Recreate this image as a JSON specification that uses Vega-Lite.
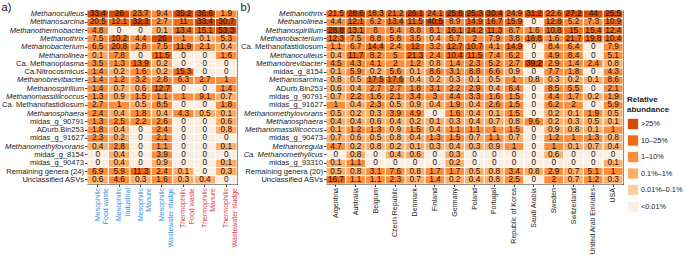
{
  "$schema": "https://vega.github.io/schema/vega-lite/v6.json",
  "padding": {"left": 1, "top": 1, "right": 0, "bottom": 0},
  "config": {
    "font": "Liberation Sans",
    "view": {"stroke": "#222", "strokeWidth": 1},
    "concat": {"spacing": 2},
    "axis": {"labelFontSize": 7.6, "labelColor": "#222", "tickColor": "#444", "tickSize": 2.5, "labelPadding": 1, "domain": false, "title": null, "grid": false}
  },
  "datasets": {
    "a": [
      {"genus":"Methanoculleus","group":"Mesophilic Food waste","value":33.4},
      {"genus":"Methanoculleus","group":"Mesophilic Industrial","value":26},
      {"genus":"Methanoculleus","group":"Mesophilic Manure","value":23.7},
      {"genus":"Methanoculleus","group":"Mesophilic Wastewater sludge","value":9.4},
      {"genus":"Methanoculleus","group":"Thermophilic Food waste","value":35.2},
      {"genus":"Methanoculleus","group":"Thermophilic Manure","value":36.6},
      {"genus":"Methanoculleus","group":"Thermophilic Wastewater sludge","value":1.9},
      {"genus":"Methanosarcina","group":"Mesophilic Food waste","value":20.5},
      {"genus":"Methanosarcina","group":"Mesophilic Industrial","value":12.1},
      {"genus":"Methanosarcina","group":"Mesophilic Manure","value":32.3},
      {"genus":"Methanosarcina","group":"Mesophilic Wastewater sludge","value":2.7},
      {"genus":"Methanosarcina","group":"Thermophilic Food waste","value":11},
      {"genus":"Methanosarcina","group":"Thermophilic Manure","value":33.4},
      {"genus":"Methanosarcina","group":"Thermophilic Wastewater sludge","value":30.7},
      {"genus":"Methanothermobacter","group":"Mesophilic Food waste","value":4.8},
      {"genus":"Methanothermobacter","group":"Mesophilic Industrial","value":0},
      {"genus":"Methanothermobacter","group":"Mesophilic Manure","value":0},
      {"genus":"Methanothermobacter","group":"Mesophilic Wastewater sludge","value":0.1},
      {"genus":"Methanothermobacter","group":"Thermophilic Food waste","value":13.4},
      {"genus":"Methanothermobacter","group":"Thermophilic Manure","value":15.1},
      {"genus":"Methanothermobacter","group":"Thermophilic Wastewater sludge","value":53.3},
      {"genus":"Methanothrix","group":"Mesophilic Food waste","value":7.5},
      {"genus":"Methanothrix","group":"Mesophilic Industrial","value":10.2},
      {"genus":"Methanothrix","group":"Mesophilic Manure","value":4.4},
      {"genus":"Methanothrix","group":"Mesophilic Wastewater sludge","value":26},
      {"genus":"Methanothrix","group":"Thermophilic Food waste","value":1},
      {"genus":"Methanothrix","group":"Thermophilic Manure","value":0.1},
      {"genus":"Methanothrix","group":"Thermophilic Wastewater sludge","value":5.3},
      {"genus":"Methanobacterium","group":"Mesophilic Food waste","value":6.5},
      {"genus":"Methanobacterium","group":"Mesophilic Industrial","value":20.8},
      {"genus":"Methanobacterium","group":"Mesophilic Manure","value":2.8},
      {"genus":"Methanobacterium","group":"Mesophilic Wastewater sludge","value":7.5},
      {"genus":"Methanobacterium","group":"Thermophilic Food waste","value":11.9},
      {"genus":"Methanobacterium","group":"Thermophilic Manure","value":2.1},
      {"genus":"Methanobacterium","group":"Thermophilic Wastewater sludge","value":0.4},
      {"genus":"Methanolinea","group":"Mesophilic Food waste","value":0.1},
      {"genus":"Methanolinea","group":"Mesophilic Industrial","value":7.8},
      {"genus":"Methanolinea","group":"Mesophilic Manure","value":0},
      {"genus":"Methanolinea","group":"Mesophilic Wastewater sludge","value":11.5},
      {"genus":"Methanolinea","group":"Thermophilic Food waste","value":0},
      {"genus":"Methanolinea","group":"Thermophilic Manure","value":0},
      {"genus":"Methanolinea","group":"Thermophilic Wastewater sludge","value":1.6},
      {"genus":"Ca. Methanoplasma","group":"Mesophilic Food waste","value":3.5},
      {"genus":"Ca. Methanoplasma","group":"Mesophilic Industrial","value":1.3},
      {"genus":"Ca. Methanoplasma","group":"Mesophilic Manure","value":13.9},
      {"genus":"Ca. Methanoplasma","group":"Mesophilic Wastewater sludge","value":0.2},
      {"genus":"Ca. Methanoplasma","group":"Thermophilic Food waste","value":0},
      {"genus":"Ca. Methanoplasma","group":"Thermophilic Manure","value":0},
      {"genus":"Ca. Methanoplasma","group":"Thermophilic Wastewater sludge","value":0},
      {"genus":"Ca.Nitrocosmicus","group":"Mesophilic Food waste","value":1.4},
      {"genus":"Ca.Nitrocosmicus","group":"Mesophilic Industrial","value":0.2},
      {"genus":"Ca.Nitrocosmicus","group":"Mesophilic Manure","value":1.6},
      {"genus":"Ca.Nitrocosmicus","group":"Mesophilic Wastewater sludge","value":0.2},
      {"genus":"Ca.Nitrocosmicus","group":"Thermophilic Food waste","value":15.3},
      {"genus":"Ca.Nitrocosmicus","group":"Thermophilic Manure","value":0},
      {"genus":"Ca.Nitrocosmicus","group":"Thermophilic Wastewater sludge","value":0},
      {"genus":"Methanobrevibacter","group":"Mesophilic Food waste","value":1.4},
      {"genus":"Methanobrevibacter","group":"Mesophilic Industrial","value":1.2},
      {"genus":"Methanobrevibacter","group":"Mesophilic Manure","value":3.2},
      {"genus":"Methanobrevibacter","group":"Mesophilic Wastewater sludge","value":2.8},
      {"genus":"Methanobrevibacter","group":"Thermophilic Food waste","value":6.3},
      {"genus":"Methanobrevibacter","group":"Thermophilic Manure","value":2.7},
      {"genus":"Methanobrevibacter","group":"Thermophilic Wastewater sludge","value":1},
      {"genus":"Methanospirillum","group":"Mesophilic Food waste","value":1.4},
      {"genus":"Methanospirillum","group":"Mesophilic Industrial","value":0.7},
      {"genus":"Methanospirillum","group":"Mesophilic Manure","value":0.6},
      {"genus":"Methanospirillum","group":"Mesophilic Wastewater sludge","value":12.7},
      {"genus":"Methanospirillum","group":"Thermophilic Food waste","value":0},
      {"genus":"Methanospirillum","group":"Thermophilic Manure","value":0},
      {"genus":"Methanospirillum","group":"Thermophilic Wastewater sludge","value":1.4},
      {"genus":"Methanomassiliicoccus","group":"Mesophilic Food waste","value":1.3},
      {"genus":"Methanomassiliicoccus","group":"Mesophilic Industrial","value":0.9},
      {"genus":"Methanomassiliicoccus","group":"Mesophilic Manure","value":1.5},
      {"genus":"Methanomassiliicoccus","group":"Mesophilic Wastewater sludge","value":1.1},
      {"genus":"Methanomassiliicoccus","group":"Thermophilic Food waste","value":1},
      {"genus":"Methanomassiliicoccus","group":"Thermophilic Manure","value":9.1},
      {"genus":"Methanomassiliicoccus","group":"Thermophilic Wastewater sludge","value":0.7},
      {"genus":"Ca. Methanofastidiosum","group":"Mesophilic Food waste","value":2.7},
      {"genus":"Ca. Methanofastidiosum","group":"Mesophilic Industrial","value":1},
      {"genus":"Ca. Methanofastidiosum","group":"Mesophilic Manure","value":0.5},
      {"genus":"Ca. Methanofastidiosum","group":"Mesophilic Wastewater sludge","value":8.5},
      {"genus":"Ca. Methanofastidiosum","group":"Thermophilic Food waste","value":0},
      {"genus":"Ca. Methanofastidiosum","group":"Thermophilic Manure","value":0},
      {"genus":"Ca. Methanofastidiosum","group":"Thermophilic Wastewater sludge","value":1.8},
      {"genus":"Methanosphaera","group":"Mesophilic Food waste","value":2.4},
      {"genus":"Methanosphaera","group":"Mesophilic Industrial","value":0.4},
      {"genus":"Methanosphaera","group":"Mesophilic Manure","value":1.8},
      {"genus":"Methanosphaera","group":"Mesophilic Wastewater sludge","value":0.4},
      {"genus":"Methanosphaera","group":"Thermophilic Food waste","value":4.3},
      {"genus":"Methanosphaera","group":"Thermophilic Manure","value":0.5},
      {"genus":"Methanosphaera","group":"Thermophilic Wastewater sludge","value":0.1},
      {"genus":"midas_g_90791","group":"Mesophilic Food waste","value":1.3},
      {"genus":"midas_g_90791","group":"Mesophilic Industrial","value":2.5},
      {"genus":"midas_g_90791","group":"Mesophilic Manure","value":2.2},
      {"genus":"midas_g_90791","group":"Mesophilic Wastewater sludge","value":2.6},
      {"genus":"midas_g_90791","group":"Thermophilic Food waste","value":0},
      {"genus":"midas_g_90791","group":"Thermophilic Manure","value":0},
      {"genus":"midas_g_90791","group":"Thermophilic Wastewater sludge","value":0.6},
      {"genus":"ADurb.Bin253","group":"Mesophilic Food waste","value":1.8},
      {"genus":"ADurb.Bin253","group":"Mesophilic Industrial","value":0.4},
      {"genus":"ADurb.Bin253","group":"Mesophilic Manure","value":0},
      {"genus":"ADurb.Bin253","group":"Mesophilic Wastewater sludge","value":2.4},
      {"genus":"ADurb.Bin253","group":"Thermophilic Food waste","value":0},
      {"genus":"ADurb.Bin253","group":"Thermophilic Manure","value":0},
      {"genus":"ADurb.Bin253","group":"Thermophilic Wastewater sludge","value":0.8},
      {"genus":"midas_g_91627","group":"Mesophilic Food waste","value":2.3},
      {"genus":"midas_g_91627","group":"Mesophilic Industrial","value":0.2},
      {"genus":"midas_g_91627","group":"Mesophilic Manure","value":0},
      {"genus":"midas_g_91627","group":"Mesophilic Wastewater sludge","value":2.1},
      {"genus":"midas_g_91627","group":"Thermophilic Food waste","value":0},
      {"genus":"midas_g_91627","group":"Thermophilic Manure","value":0},
      {"genus":"midas_g_91627","group":"Thermophilic Wastewater sludge","value":0},
      {"genus":"Methanomethylovorans","group":"Mesophilic Food waste","value":0.4},
      {"genus":"Methanomethylovorans","group":"Mesophilic Industrial","value":2.8},
      {"genus":"Methanomethylovorans","group":"Mesophilic Manure","value":0},
      {"genus":"Methanomethylovorans","group":"Mesophilic Wastewater sludge","value":1.1},
      {"genus":"Methanomethylovorans","group":"Thermophilic Food waste","value":0},
      {"genus":"Methanomethylovorans","group":"Thermophilic Manure","value":0},
      {"genus":"Methanomethylovorans","group":"Thermophilic Wastewater sludge","value":0.1},
      {"genus":"midas_g_8154","group":"Mesophilic Food waste","value":0},
      {"genus":"midas_g_8154","group":"Mesophilic Industrial","value":0.4},
      {"genus":"midas_g_8154","group":"Mesophilic Manure","value":0},
      {"genus":"midas_g_8154","group":"Mesophilic Wastewater sludge","value":3.9},
      {"genus":"midas_g_8154","group":"Thermophilic Food waste","value":0},
      {"genus":"midas_g_8154","group":"Thermophilic Manure","value":0},
      {"genus":"midas_g_8154","group":"Thermophilic Wastewater sludge","value":0},
      {"genus":"midas_g_90473","group":"Mesophilic Food waste","value":0},
      {"genus":"midas_g_90473","group":"Mesophilic Industrial","value":0.4},
      {"genus":"midas_g_90473","group":"Mesophilic Manure","value":0},
      {"genus":"midas_g_90473","group":"Mesophilic Wastewater sludge","value":0.9},
      {"genus":"midas_g_90473","group":"Thermophilic Food waste","value":0},
      {"genus":"midas_g_90473","group":"Thermophilic Manure","value":0},
      {"genus":"midas_g_90473","group":"Thermophilic Wastewater sludge","value":0.1},
      {"genus":"Remaining genera (24)","group":"Mesophilic Food waste","value":6.9},
      {"genus":"Remaining genera (24)","group":"Mesophilic Industrial","value":5.9},
      {"genus":"Remaining genera (24)","group":"Mesophilic Manure","value":11.3},
      {"genus":"Remaining genera (24)","group":"Mesophilic Wastewater sludge","value":2.4},
      {"genus":"Remaining genera (24)","group":"Thermophilic Food waste","value":0.1},
      {"genus":"Remaining genera (24)","group":"Thermophilic Manure","value":0},
      {"genus":"Remaining genera (24)","group":"Thermophilic Wastewater sludge","value":0.3},
      {"genus":"Unclassified ASVs","group":"Mesophilic Food waste","value":0.6},
      {"genus":"Unclassified ASVs","group":"Mesophilic Industrial","value":4.6},
      {"genus":"Unclassified ASVs","group":"Mesophilic Manure","value":0.3},
      {"genus":"Unclassified ASVs","group":"Mesophilic Wastewater sludge","value":1.6},
      {"genus":"Unclassified ASVs","group":"Thermophilic Food waste","value":0.3},
      {"genus":"Unclassified ASVs","group":"Thermophilic Manure","value":0.4},
      {"genus":"Unclassified ASVs","group":"Thermophilic Wastewater sludge","value":0}
    ],
    "b": [
      {"genus":"Methanothrix","country":"Argentina","value":21.5},
      {"genus":"Methanothrix","country":"Australia","value":28.6},
      {"genus":"Methanothrix","country":"Belgium","value":18.3},
      {"genus":"Methanothrix","country":"Czech Republic","value":21.2},
      {"genus":"Methanothrix","country":"Denmark","value":26.1},
      {"genus":"Methanothrix","country":"Finland","value":24.1},
      {"genus":"Methanothrix","country":"Germany","value":25.8},
      {"genus":"Methanothrix","country":"Poland","value":25.3},
      {"genus":"Methanothrix","country":"Portugal","value":30.4},
      {"genus":"Methanothrix","country":"Republic of Korea","value":24.9},
      {"genus":"Methanothrix","country":"Saudi Arabia","value":31.2},
      {"genus":"Methanothrix","country":"Sweden","value":22.6},
      {"genus":"Methanothrix","country":"Switzerland","value":27.2},
      {"genus":"Methanothrix","country":"United Arab Emirates","value":44},
      {"genus":"Methanothrix","country":"USA","value":25.5},
      {"genus":"Methanolinea","country":"Argentina","value":4.4},
      {"genus":"Methanolinea","country":"Australia","value":12.1},
      {"genus":"Methanolinea","country":"Belgium","value":6.2},
      {"genus":"Methanolinea","country":"Czech Republic","value":13.4},
      {"genus":"Methanolinea","country":"Denmark","value":11.5},
      {"genus":"Methanolinea","country":"Finland","value":40.5},
      {"genus":"Methanolinea","country":"Germany","value":8.9},
      {"genus":"Methanolinea","country":"Poland","value":14.9},
      {"genus":"Methanolinea","country":"Portugal","value":16.7},
      {"genus":"Methanolinea","country":"Republic of Korea","value":15.9},
      {"genus":"Methanolinea","country":"Saudi Arabia","value":0},
      {"genus":"Methanolinea","country":"Sweden","value":12.8},
      {"genus":"Methanolinea","country":"Switzerland","value":5.2},
      {"genus":"Methanolinea","country":"United Arab Emirates","value":7.3},
      {"genus":"Methanolinea","country":"USA","value":10.9},
      {"genus":"Methanospirillum","country":"Argentina","value":28.8},
      {"genus":"Methanospirillum","country":"Australia","value":13.1},
      {"genus":"Methanospirillum","country":"Belgium","value":8},
      {"genus":"Methanospirillum","country":"Czech Republic","value":5.4},
      {"genus":"Methanospirillum","country":"Denmark","value":8.8},
      {"genus":"Methanospirillum","country":"Finland","value":8.1},
      {"genus":"Methanospirillum","country":"Germany","value":16.1},
      {"genus":"Methanospirillum","country":"Poland","value":14.2},
      {"genus":"Methanospirillum","country":"Portugal","value":11.3},
      {"genus":"Methanospirillum","country":"Republic of Korea","value":8.7},
      {"genus":"Methanospirillum","country":"Saudi Arabia","value":1.6},
      {"genus":"Methanospirillum","country":"Sweden","value":10.8},
      {"genus":"Methanospirillum","country":"Switzerland","value":15},
      {"genus":"Methanospirillum","country":"United Arab Emirates","value":15.4},
      {"genus":"Methanospirillum","country":"USA","value":12.4},
      {"genus":"Methanobacterium","country":"Argentina","value":12.3},
      {"genus":"Methanobacterium","country":"Australia","value":7.5},
      {"genus":"Methanobacterium","country":"Belgium","value":8.8},
      {"genus":"Methanobacterium","country":"Czech Republic","value":5.8},
      {"genus":"Methanobacterium","country":"Denmark","value":3.5},
      {"genus":"Methanobacterium","country":"Finland","value":0.4},
      {"genus":"Methanobacterium","country":"Germany","value":5.7},
      {"genus":"Methanobacterium","country":"Poland","value":2},
      {"genus":"Methanobacterium","country":"Portugal","value":7.9},
      {"genus":"Methanobacterium","country":"Republic of Korea","value":3.8},
      {"genus":"Methanobacterium","country":"Saudi Arabia","value":16.8},
      {"genus":"Methanobacterium","country":"Sweden","value":1.6},
      {"genus":"Methanobacterium","country":"Switzerland","value":21.7},
      {"genus":"Methanobacterium","country":"United Arab Emirates","value":19.8},
      {"genus":"Methanobacterium","country":"USA","value":10.4},
      {"genus":"Ca. Methanofastidiosum","country":"Argentina","value":1.1},
      {"genus":"Ca. Methanofastidiosum","country":"Australia","value":6.7},
      {"genus":"Ca. Methanofastidiosum","country":"Belgium","value":14.4},
      {"genus":"Ca. Methanofastidiosum","country":"Czech Republic","value":2.4},
      {"genus":"Ca. Methanofastidiosum","country":"Denmark","value":12},
      {"genus":"Ca. Methanofastidiosum","country":"Finland","value":3.2},
      {"genus":"Ca. Methanofastidiosum","country":"Germany","value":12.7},
      {"genus":"Ca. Methanofastidiosum","country":"Poland","value":10.7},
      {"genus":"Ca. Methanofastidiosum","country":"Portugal","value":4.1},
      {"genus":"Ca. Methanofastidiosum","country":"Republic of Korea","value":14.9},
      {"genus":"Ca. Methanofastidiosum","country":"Saudi Arabia","value":0},
      {"genus":"Ca. Methanofastidiosum","country":"Sweden","value":8.4},
      {"genus":"Ca. Methanofastidiosum","country":"Switzerland","value":6.4},
      {"genus":"Ca. Methanofastidiosum","country":"United Arab Emirates","value":0},
      {"genus":"Ca. Methanofastidiosum","country":"USA","value":7.9},
      {"genus":"Methanoculleus","country":"Argentina","value":0.4},
      {"genus":"Methanoculleus","country":"Australia","value":11.7},
      {"genus":"Methanoculleus","country":"Belgium","value":8.2},
      {"genus":"Methanoculleus","country":"Czech Republic","value":5},
      {"genus":"Methanoculleus","country":"Denmark","value":21.3},
      {"genus":"Methanoculleus","country":"Finland","value":2.4},
      {"genus":"Methanoculleus","country":"Germany","value":10.4},
      {"genus":"Methanoculleus","country":"Poland","value":11.5},
      {"genus":"Methanoculleus","country":"Portugal","value":7.4},
      {"genus":"Methanoculleus","country":"Republic of Korea","value":6.2},
      {"genus":"Methanoculleus","country":"Saudi Arabia","value":0},
      {"genus":"Methanoculleus","country":"Sweden","value":4.9},
      {"genus":"Methanoculleus","country":"Switzerland","value":8.4},
      {"genus":"Methanoculleus","country":"United Arab Emirates","value":0},
      {"genus":"Methanoculleus","country":"USA","value":5.1},
      {"genus":"Methanobrevibacter","country":"Argentina","value":4.5},
      {"genus":"Methanobrevibacter","country":"Australia","value":4.3},
      {"genus":"Methanobrevibacter","country":"Belgium","value":4.1},
      {"genus":"Methanobrevibacter","country":"Czech Republic","value":2},
      {"genus":"Methanobrevibacter","country":"Denmark","value":1.2},
      {"genus":"Methanobrevibacter","country":"Finland","value":0.8},
      {"genus":"Methanobrevibacter","country":"Germany","value":1.4},
      {"genus":"Methanobrevibacter","country":"Poland","value":2.3},
      {"genus":"Methanobrevibacter","country":"Portugal","value":5.2},
      {"genus":"Methanobrevibacter","country":"Republic of Korea","value":2.7},
      {"genus":"Methanobrevibacter","country":"Saudi Arabia","value":39.2},
      {"genus":"Methanobrevibacter","country":"Sweden","value":2.9},
      {"genus":"Methanobrevibacter","country":"Switzerland","value":1.4},
      {"genus":"Methanobrevibacter","country":"United Arab Emirates","value":2.4},
      {"genus":"Methanobrevibacter","country":"USA","value":0.8},
      {"genus":"midas_g_8154","country":"Argentina","value":0.1},
      {"genus":"midas_g_8154","country":"Australia","value":5.9},
      {"genus":"midas_g_8154","country":"Belgium","value":0.2},
      {"genus":"midas_g_8154","country":"Czech Republic","value":5.6},
      {"genus":"midas_g_8154","country":"Denmark","value":0.1},
      {"genus":"midas_g_8154","country":"Finland","value":8.6},
      {"genus":"midas_g_8154","country":"Germany","value":3.1},
      {"genus":"midas_g_8154","country":"Poland","value":8.8},
      {"genus":"midas_g_8154","country":"Portugal","value":6.6},
      {"genus":"midas_g_8154","country":"Republic of Korea","value":0.9},
      {"genus":"midas_g_8154","country":"Saudi Arabia","value":0},
      {"genus":"midas_g_8154","country":"Sweden","value":7.7},
      {"genus":"midas_g_8154","country":"Switzerland","value":1.8},
      {"genus":"midas_g_8154","country":"United Arab Emirates","value":0},
      {"genus":"midas_g_8154","country":"USA","value":4.3},
      {"genus":"Methanosarcina","country":"Argentina","value":0.8},
      {"genus":"Methanosarcina","country":"Australia","value":0.5},
      {"genus":"Methanosarcina","country":"Belgium","value":17.5},
      {"genus":"Methanosarcina","country":"Czech Republic","value":17.6},
      {"genus":"Methanosarcina","country":"Denmark","value":0.4},
      {"genus":"Methanosarcina","country":"Finland","value":0.2},
      {"genus":"Methanosarcina","country":"Germany","value":0.3},
      {"genus":"Methanosarcina","country":"Poland","value":0.1},
      {"genus":"Methanosarcina","country":"Portugal","value":0.5},
      {"genus":"Methanosarcina","country":"Republic of Korea","value":1},
      {"genus":"Methanosarcina","country":"Saudi Arabia","value":0.8},
      {"genus":"Methanosarcina","country":"Sweden","value":0.3},
      {"genus":"Methanosarcina","country":"Switzerland","value":0.2},
      {"genus":"Methanosarcina","country":"United Arab Emirates","value":0.1},
      {"genus":"Methanosarcina","country":"USA","value":8.6},
      {"genus":"ADurb.Bin253","country":"Argentina","value":0.6},
      {"genus":"ADurb.Bin253","country":"Australia","value":0.4},
      {"genus":"ADurb.Bin253","country":"Belgium","value":2.7},
      {"genus":"ADurb.Bin253","country":"Czech Republic","value":2.7},
      {"genus":"ADurb.Bin253","country":"Denmark","value":1.8},
      {"genus":"ADurb.Bin253","country":"Finland","value":3.1},
      {"genus":"ADurb.Bin253","country":"Germany","value":2.2},
      {"genus":"ADurb.Bin253","country":"Poland","value":2.9},
      {"genus":"ADurb.Bin253","country":"Portugal","value":0.4},
      {"genus":"ADurb.Bin253","country":"Republic of Korea","value":6.4},
      {"genus":"ADurb.Bin253","country":"Saudi Arabia","value":0},
      {"genus":"ADurb.Bin253","country":"Sweden","value":8.5},
      {"genus":"ADurb.Bin253","country":"Switzerland","value":5.5},
      {"genus":"ADurb.Bin253","country":"United Arab Emirates","value":0},
      {"genus":"ADurb.Bin253","country":"USA","value":2.1},
      {"genus":"midas_g_90791","country":"Argentina","value":0.7},
      {"genus":"midas_g_90791","country":"Australia","value":2.2},
      {"genus":"midas_g_90791","country":"Belgium","value":1.6},
      {"genus":"midas_g_90791","country":"Czech Republic","value":2.1},
      {"genus":"midas_g_90791","country":"Denmark","value":3.4},
      {"genus":"midas_g_90791","country":"Finland","value":3},
      {"genus":"midas_g_90791","country":"Germany","value":4.4},
      {"genus":"midas_g_90791","country":"Poland","value":3.3},
      {"genus":"midas_g_90791","country":"Portugal","value":1.6},
      {"genus":"midas_g_90791","country":"Republic of Korea","value":1.5},
      {"genus":"midas_g_90791","country":"Saudi Arabia","value":0},
      {"genus":"midas_g_90791","country":"Sweden","value":4.4},
      {"genus":"midas_g_90791","country":"Switzerland","value":1.7},
      {"genus":"midas_g_90791","country":"United Arab Emirates","value":0.2},
      {"genus":"midas_g_90791","country":"USA","value":1.9},
      {"genus":"midas_g_91627","country":"Argentina","value":1},
      {"genus":"midas_g_91627","country":"Australia","value":0.4},
      {"genus":"midas_g_91627","country":"Belgium","value":2.3},
      {"genus":"midas_g_91627","country":"Czech Republic","value":0.5},
      {"genus":"midas_g_91627","country":"Denmark","value":0.9},
      {"genus":"midas_g_91627","country":"Finland","value":0.4},
      {"genus":"midas_g_91627","country":"Germany","value":1.9},
      {"genus":"midas_g_91627","country":"Poland","value":0.4},
      {"genus":"midas_g_91627","country":"Portugal","value":2.6},
      {"genus":"midas_g_91627","country":"Republic of Korea","value":1.5},
      {"genus":"midas_g_91627","country":"Saudi Arabia","value":0},
      {"genus":"midas_g_91627","country":"Sweden","value":6.2},
      {"genus":"midas_g_91627","country":"Switzerland","value":2},
      {"genus":"midas_g_91627","country":"United Arab Emirates","value":0},
      {"genus":"midas_g_91627","country":"USA","value":5.9},
      {"genus":"Methanomethylovorans","country":"Argentina","value":0.5},
      {"genus":"Methanomethylovorans","country":"Australia","value":0.2},
      {"genus":"Methanomethylovorans","country":"Belgium","value":0.3},
      {"genus":"Methanomethylovorans","country":"Czech Republic","value":3.9},
      {"genus":"Methanomethylovorans","country":"Denmark","value":4.9},
      {"genus":"Methanomethylovorans","country":"Finland","value":0},
      {"genus":"Methanomethylovorans","country":"Germany","value":1.6},
      {"genus":"Methanomethylovorans","country":"Poland","value":0.4},
      {"genus":"Methanomethylovorans","country":"Portugal","value":0.1},
      {"genus":"Methanomethylovorans","country":"Republic of Korea","value":1.5},
      {"genus":"Methanomethylovorans","country":"Saudi Arabia","value":0},
      {"genus":"Methanomethylovorans","country":"Sweden","value":0.2},
      {"genus":"Methanomethylovorans","country":"Switzerland","value":0.1},
      {"genus":"Methanomethylovorans","country":"United Arab Emirates","value":1.9},
      {"genus":"Methanomethylovorans","country":"USA","value":0.5},
      {"genus":"Methanosphaera","country":"Argentina","value":0.4},
      {"genus":"Methanosphaera","country":"Australia","value":0.4},
      {"genus":"Methanosphaera","country":"Belgium","value":0.6},
      {"genus":"Methanosphaera","country":"Czech Republic","value":0.4},
      {"genus":"Methanosphaera","country":"Denmark","value":0.2},
      {"genus":"Methanosphaera","country":"Finland","value":0.1},
      {"genus":"Methanosphaera","country":"Germany","value":0.3},
      {"genus":"Methanosphaera","country":"Poland","value":0.4},
      {"genus":"Methanosphaera","country":"Portugal","value":0.7},
      {"genus":"Methanosphaera","country":"Republic of Korea","value":0.8},
      {"genus":"Methanosphaera","country":"Saudi Arabia","value":9.6},
      {"genus":"Methanosphaera","country":"Sweden","value":0.2},
      {"genus":"Methanosphaera","country":"Switzerland","value":0.3},
      {"genus":"Methanosphaera","country":"United Arab Emirates","value":0.5},
      {"genus":"Methanosphaera","country":"USA","value":0.1},
      {"genus":"Methanomassiliicoccus","country":"Argentina","value":0.1},
      {"genus":"Methanomassiliicoccus","country":"Australia","value":1.2},
      {"genus":"Methanomassiliicoccus","country":"Belgium","value":1.3},
      {"genus":"Methanomassiliicoccus","country":"Czech Republic","value":0.9},
      {"genus":"Methanomassiliicoccus","country":"Denmark","value":1.5},
      {"genus":"Methanomassiliicoccus","country":"Finland","value":0.4},
      {"genus":"Methanomassiliicoccus","country":"Germany","value":1.1},
      {"genus":"Methanomassiliicoccus","country":"Poland","value":1.1},
      {"genus":"Methanomassiliicoccus","country":"Portugal","value":1},
      {"genus":"Methanomassiliicoccus","country":"Republic of Korea","value":1.5},
      {"genus":"Methanomassiliicoccus","country":"Saudi Arabia","value":0},
      {"genus":"Methanomassiliicoccus","country":"Sweden","value":0.9},
      {"genus":"Methanomassiliicoccus","country":"Switzerland","value":0.8},
      {"genus":"Methanomassiliicoccus","country":"United Arab Emirates","value":0.1},
      {"genus":"Methanomassiliicoccus","country":"USA","value":1},
      {"genus":"midas_g_90473","country":"Argentina","value":0.7},
      {"genus":"midas_g_90473","country":"Australia","value":0.6},
      {"genus":"midas_g_90473","country":"Belgium","value":0.5},
      {"genus":"midas_g_90473","country":"Czech Republic","value":0.8},
      {"genus":"midas_g_90473","country":"Denmark","value":0.4},
      {"genus":"midas_g_90473","country":"Finland","value":1.3},
      {"genus":"midas_g_90473","country":"Germany","value":1.5},
      {"genus":"midas_g_90473","country":"Poland","value":0.7},
      {"genus":"midas_g_90473","country":"Portugal","value":1.1},
      {"genus":"midas_g_90473","country":"Republic of Korea","value":0.7},
      {"genus":"midas_g_90473","country":"Saudi Arabia","value":0},
      {"genus":"midas_g_90473","country":"Sweden","value":1.2},
      {"genus":"midas_g_90473","country":"Switzerland","value":1},
      {"genus":"midas_g_90473","country":"United Arab Emirates","value":1.3},
      {"genus":"midas_g_90473","country":"USA","value":0.8},
      {"genus":"Methanoregula","country":"Argentina","value":4.7},
      {"genus":"Methanoregula","country":"Australia","value":0.2},
      {"genus":"Methanoregula","country":"Belgium","value":0.8},
      {"genus":"Methanoregula","country":"Czech Republic","value":0.2},
      {"genus":"Methanoregula","country":"Denmark","value":0.1},
      {"genus":"Methanoregula","country":"Finland","value":0.3},
      {"genus":"Methanoregula","country":"Germany","value":0.4},
      {"genus":"Methanoregula","country":"Poland","value":0.3},
      {"genus":"Methanoregula","country":"Portugal","value":0.9},
      {"genus":"Methanoregula","country":"Republic of Korea","value":1},
      {"genus":"Methanoregula","country":"Saudi Arabia","value":0},
      {"genus":"Methanoregula","country":"Sweden","value":1},
      {"genus":"Methanoregula","country":"Switzerland","value":0.1},
      {"genus":"Methanoregula","country":"United Arab Emirates","value":0.7},
      {"genus":"Methanoregula","country":"USA","value":0.4},
      {"genus":"Ca. Methanomethylicus","country":"Argentina","value":0},
      {"genus":"Ca. Methanomethylicus","country":"Australia","value":0.8},
      {"genus":"Ca. Methanomethylicus","country":"Belgium","value":0},
      {"genus":"Ca. Methanomethylicus","country":"Czech Republic","value":0.4},
      {"genus":"Ca. Methanomethylicus","country":"Denmark","value":0.6},
      {"genus":"Ca. Methanomethylicus","country":"Finland","value":0},
      {"genus":"Ca. Methanomethylicus","country":"Germany","value":0.3},
      {"genus":"Ca. Methanomethylicus","country":"Poland","value":0},
      {"genus":"Ca. Methanomethylicus","country":"Portugal","value":0},
      {"genus":"Ca. Methanomethylicus","country":"Republic of Korea","value":0},
      {"genus":"Ca. Methanomethylicus","country":"Saudi Arabia","value":0},
      {"genus":"Ca. Methanomethylicus","country":"Sweden","value":0.6},
      {"genus":"Ca. Methanomethylicus","country":"Switzerland","value":0},
      {"genus":"Ca. Methanomethylicus","country":"United Arab Emirates","value":0},
      {"genus":"Ca. Methanomethylicus","country":"USA","value":0},
      {"genus":"midas_g_93310","country":"Argentina","value":0.1},
      {"genus":"midas_g_93310","country":"Australia","value":1.1},
      {"genus":"midas_g_93310","country":"Belgium","value":0},
      {"genus":"midas_g_93310","country":"Czech Republic","value":0},
      {"genus":"midas_g_93310","country":"Denmark","value":0},
      {"genus":"midas_g_93310","country":"Finland","value":0},
      {"genus":"midas_g_93310","country":"Germany","value":0.2},
      {"genus":"midas_g_93310","country":"Poland","value":0},
      {"genus":"midas_g_93310","country":"Portugal","value":0},
      {"genus":"midas_g_93310","country":"Republic of Korea","value":0},
      {"genus":"midas_g_93310","country":"Saudi Arabia","value":0},
      {"genus":"midas_g_93310","country":"Sweden","value":0},
      {"genus":"midas_g_93310","country":"Switzerland","value":0},
      {"genus":"midas_g_93310","country":"United Arab Emirates","value":0},
      {"genus":"midas_g_93310","country":"USA","value":0.1},
      {"genus":"Remaining genera (20)","country":"Argentina","value":0.5},
      {"genus":"Remaining genera (20)","country":"Australia","value":0.8},
      {"genus":"Remaining genera (20)","country":"Belgium","value":3.1},
      {"genus":"Remaining genera (20)","country":"Czech Republic","value":7.6},
      {"genus":"Remaining genera (20)","country":"Denmark","value":0.8},
      {"genus":"Remaining genera (20)","country":"Finland","value":1.7},
      {"genus":"Remaining genera (20)","country":"Germany","value":1.7},
      {"genus":"Remaining genera (20)","country":"Poland","value":0.5},
      {"genus":"Remaining genera (20)","country":"Portugal","value":0.8},
      {"genus":"Remaining genera (20)","country":"Republic of Korea","value":3.4},
      {"genus":"Remaining genera (20)","country":"Saudi Arabia","value":0.8},
      {"genus":"Remaining genera (20)","country":"Sweden","value":2.9},
      {"genus":"Remaining genera (20)","country":"Switzerland","value":0.7},
      {"genus":"Remaining genera (20)","country":"United Arab Emirates","value":5.1},
      {"genus":"Remaining genera (20)","country":"USA","value":1},
      {"genus":"Unclassified ASVs","country":"Argentina","value":16.7},
      {"genus":"Unclassified ASVs","country":"Australia","value":1.1},
      {"genus":"Unclassified ASVs","country":"Belgium","value":1.1},
      {"genus":"Unclassified ASVs","country":"Czech Republic","value":2.3},
      {"genus":"Unclassified ASVs","country":"Denmark","value":0.7},
      {"genus":"Unclassified ASVs","country":"Finland","value":1.4},
      {"genus":"Unclassified ASVs","country":"Germany","value":0.2},
      {"genus":"Unclassified ASVs","country":"Poland","value":0.4},
      {"genus":"Unclassified ASVs","country":"Portugal","value":0.8},
      {"genus":"Unclassified ASVs","country":"Republic of Korea","value":2.5},
      {"genus":"Unclassified ASVs","country":"Saudi Arabia","value":0},
      {"genus":"Unclassified ASVs","country":"Sweden","value":2},
      {"genus":"Unclassified ASVs","country":"Switzerland","value":0.7},
      {"genus":"Unclassified ASVs","country":"United Arab Emirates","value":1.2},
      {"genus":"Unclassified ASVs","country":"USA","value":0.3}
    ]
  },
  "hconcat": [
    {
      "width": 150,
      "height": 174,
      "title": {"text": "a)", "anchor": "start", "frame": "bounds", "fontSize": 11, "fontWeight": "normal", "offset": -4, "color": "#111"},
      "data": {"name": "a"},
      "encoding": {
        "x": {
          "field": "group", "type": "nominal", "sort": null,
          "axis": {
            "labelAngle": -90,
            "labelFontSize": 7,
            "labelLineHeight": 8.5,
            "labelExpr": "[slice(datum.label, 0, indexof(datum.label, ' ')), slice(datum.label, indexof(datum.label, ' ') + 1)]",
            "labelColor": {"condition": {"test": "indexof(datum.value, 'Thermo') == 0", "value": "#d9434b"}, "value": "#3b8ede"}
          }
        },
        "y": {
          "field": "genus", "type": "nominal", "sort": null,
          "axis": {
            "labelFontStyle": {"condition": {"test": "indexof(datum.value, 'Methano') == 0", "value": "italic"}, "value": "normal"}
          }
        }
      },
      "layer": [
        {
          "mark": {"type": "rect", "stroke": "white", "strokeWidth": 1},
          "encoding": {
            "color": {
              "field": "value", "type": "quantitative",
              "scale": {"type": "threshold", "domain": [0.01, 0.1, 1, 10, 25], "range": ["#fdeee1", "#fdd0a2", "#fdae6b", "#fd8d3c", "#f16913", "#d94801"]},
              "legend": {
                "title": ["Relative", "abundance"],
                "orient": "none",
                "legendX": 540,
                "legendY": 86,
                "values": [30, 15, 5, 0.5, 0.05, 0],
                "labelExpr": "datum.value > 25 ? '>25%' : datum.value > 10 ? '10–25%' : datum.value > 1 ? '1–10%' : datum.value > 0.1 ? '0.1%–1%' : datum.value > 0.01 ? '0.01%–0.1%' : '<0.01%'",
                "symbolType": "square",
                "symbolSize": 125,
                "symbolOpacity": 1,
                "symbolStrokeColor": "#555",
                "symbolStrokeWidth": 0.8,
                "titleFontSize": 8,
                "titleFontWeight": "bold",
                "titleColor": "#222",
                "titlePadding": 4,
                "labelFontSize": 7.3,
                "labelColor": "#222",
                "labelOffset": 2,
                "rowPadding": 0.5
              }
            },
            "opacity": {
              "field": "value", "type": "quantitative",
              "scale": {"type": "threshold", "domain": [0.01, 0.1, 1, 10, 25], "range": [1, 1, 1, 1, 1, 1]},
              "legend": {
                "title": ["Relative", "abundance"],
                "orient": "none",
                "legendX": 540,
                "legendY": 86,
                "values": [30, 15, 5, 0.5, 0.05, 0],
                "labelExpr": "datum.value > 25 ? '>25%' : datum.value > 10 ? '10–25%' : datum.value > 1 ? '1–10%' : datum.value > 0.1 ? '0.1%–1%' : datum.value > 0.01 ? '0.01%–0.1%' : '<0.01%'",
                "symbolType": "square",
                "symbolSize": 125,
                "symbolOpacity": 1,
                "symbolStrokeColor": "#555",
                "symbolStrokeWidth": 0.8,
                "titleFontSize": 8,
                "titleFontWeight": "bold",
                "titleColor": "#222",
                "titlePadding": 4,
                "labelFontSize": 7.3,
                "labelColor": "#222",
                "labelOffset": 2,
                "rowPadding": 0.5
              }
            }
          }
        },
        {
          "mark": {"type": "text", "fontSize": 8.2, "color": "#111"},
          "encoding": {"text": {"field": "value", "type": "quantitative"}}
        }
      ]
    },
    {
      "width": 297,
      "height": 174,
      "title": {"text": "b)", "anchor": "start", "frame": "bounds", "fontSize": 11, "fontWeight": "normal", "offset": -4, "color": "#111"},
      "data": {"name": "b"},
      "encoding": {
        "x": {"field": "country", "type": "nominal", "sort": null, "axis": {"labelAngle": -90, "labelFontSize": 7}},
        "y": {
          "field": "genus", "type": "nominal", "sort": null,
          "axis": {
            "labelFontStyle": {"condition": {"test": "indexof(datum.value, 'Methano') == 0 || datum.value == 'Ca. Methanomethylicus'", "value": "italic"}, "value": "normal"}
          }
        }
      },
      "layer": [
        {
          "mark": {"type": "rect", "stroke": "white", "strokeWidth": 1},
          "encoding": {
            "color": {"field": "value", "type": "quantitative", "scale": {"type": "threshold", "domain": [0.01, 0.1, 1, 10, 25], "range": ["#fdeee1", "#fdd0a2", "#fdae6b", "#fd8d3c", "#f16913", "#d94801"]}}
          }
        },
        {
          "mark": {"type": "text", "fontSize": 8.2, "color": "#111"},
          "encoding": {"text": {"field": "value", "type": "quantitative"}}
        }
      ]
    }
  ],
  "resolve": {"scale": {"color": "shared"}}
}
